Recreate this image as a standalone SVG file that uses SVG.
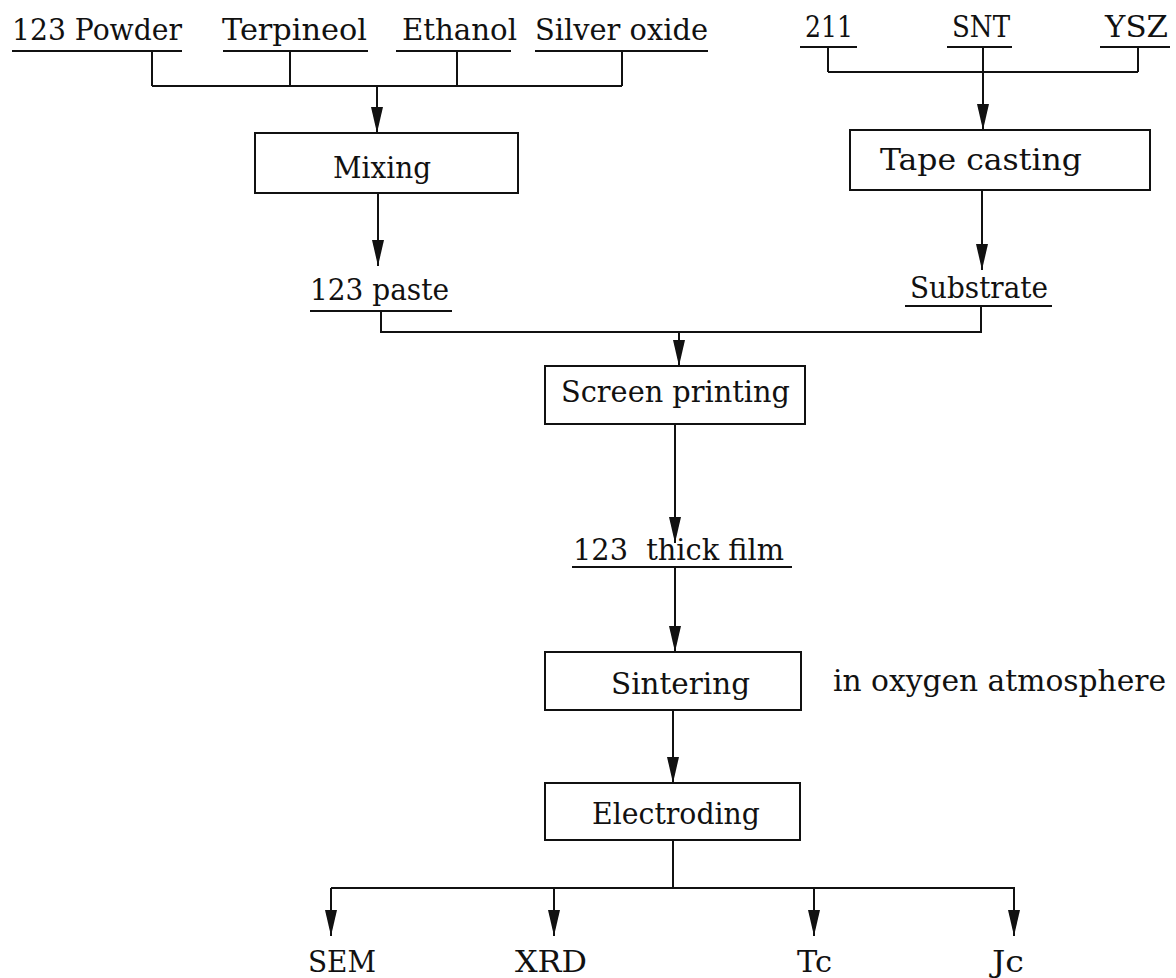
<svg xmlns="http://www.w3.org/2000/svg" width="1176" height="978" viewBox="0 0 1176 978">
<defs>
<style>
.t{font-family:"DejaVu Serif","Liberation Serif",serif;font-size:30px;fill:#111;}
.ln{stroke:#111;stroke-width:2;fill:none;}
.bx{stroke:#111;stroke-width:2;fill:#fff;}
.ar{stroke:#111;stroke-width:2;fill:none;marker-end:url(#ah);}
</style>
<marker id="ah" viewBox="0 -6 26 12" refX="26" refY="0" markerWidth="26" markerHeight="12" markerUnits="userSpaceOnUse" orient="auto">
<path d="M0,-6 L26,0 L0,6 z" fill="#111"/>
</marker>
</defs>
<rect width="1176" height="978" fill="#fff"/>

<g id="connectors">
<path class="ln" d="M152,51 V86 M290,51 V86 M457,51 V86 M622,51 V86 M152,86 H622"/>
<path class="ar" d="M377,86 V133"/>
<path class="ar" d="M378,193 V266"/>
<path class="ln" d="M828,47 V72 M983,47 V72 M1138,47 V72 M828,72 H1138"/>
<path class="ar" d="M983,72 V130"/>
<path class="ar" d="M982,190 V270"/>
<path class="ln" d="M381,311 V332 H981 V306"/>
<path class="ar" d="M679,332 V366"/>
<path class="ar" d="M675,424 V543"/>
<path class="ar" d="M675,567 V652"/>
<path class="ar" d="M673,710 V783"/>
<path class="ln" d="M673,840 V888 M331,888 H1015"/>
<path class="ar" d="M331,888 V936"/>
<path class="ar" d="M554,888 V936"/>
<path class="ar" d="M814,888 V936"/>
<path class="ar" d="M1014,888 V936"/>
</g>

<g id="n-123powder"><text class="t" x="12" y="40" textLength="170" lengthAdjust="spacingAndGlyphs">123 Powder</text><line class="ln" x1="12" y1="51" x2="182" y2="51"/></g>
<g id="n-terpineol"><text class="t" x="222" y="40" textLength="145" lengthAdjust="spacingAndGlyphs">Terpineol</text><line class="ln" x1="223" y1="51" x2="368" y2="51"/></g>
<g id="n-ethanol"><text class="t" x="402" y="40" textLength="115" lengthAdjust="spacingAndGlyphs">Ethanol</text><line class="ln" x1="396" y1="51" x2="511" y2="51"/></g>
<g id="n-silveroxide"><text class="t" x="535" y="40" textLength="173" lengthAdjust="spacingAndGlyphs">Silver oxide</text><line class="ln" x1="535" y1="51" x2="708" y2="51"/></g>

<g id="n-211"><text class="t" x="805" y="37" textLength="48" lengthAdjust="spacingAndGlyphs">211</text><line class="ln" x1="800" y1="47" x2="857" y2="47"/></g>
<g id="n-snt"><text class="t" x="952" y="37" textLength="58" lengthAdjust="spacingAndGlyphs">SNT</text><line class="ln" x1="947" y1="47" x2="1012" y2="47"/></g>
<g id="n-ysz"><text class="t" x="1105" y="37" textLength="63" lengthAdjust="spacingAndGlyphs">YSZ</text><line class="ln" x1="1100" y1="47" x2="1170" y2="47"/></g>

<g id="n-mixing"><rect class="bx" x="255" y="133" width="263" height="60"/><text class="t" x="333" y="178" textLength="98" lengthAdjust="spacingAndGlyphs">Mixing</text></g>
<g id="n-tapecasting"><rect class="bx" x="850" y="130" width="300" height="60"/><text class="t" x="880" y="170" textLength="202" lengthAdjust="spacingAndGlyphs">Tape casting</text></g>

<g id="n-123paste"><text class="t" x="310" y="300" textLength="139" lengthAdjust="spacingAndGlyphs">123 paste</text><line class="ln" x1="310" y1="311" x2="452" y2="311"/></g>
<g id="n-substrate"><text class="t" x="910" y="298" textLength="138" lengthAdjust="spacingAndGlyphs">Substrate</text><line class="ln" x1="905" y1="306" x2="1052" y2="306"/></g>

<g id="n-screenprinting"><rect class="bx" x="545" y="366" width="260" height="58"/><text class="t" x="561" y="402" textLength="229" lengthAdjust="spacingAndGlyphs">Screen printing</text></g>

<g id="n-thickfilm"><text class="t" x="573" y="560" textLength="211" lengthAdjust="spacingAndGlyphs" xml:space="preserve">123  thick film</text><line class="ln" x1="572" y1="567" x2="792" y2="567"/></g>

<g id="n-sintering"><rect class="bx" x="545" y="652" width="256" height="58"/><text class="t" x="611" y="694" textLength="139" lengthAdjust="spacingAndGlyphs">Sintering</text></g>
<g id="n-oxygen"><text class="t" x="833" y="691" textLength="333" lengthAdjust="spacingAndGlyphs">in oxygen atmosphere</text></g>

<g id="n-electroding"><rect class="bx" x="545" y="783" width="255" height="57"/><text class="t" x="592" y="824" textLength="168" lengthAdjust="spacingAndGlyphs">Electroding</text></g>

<g id="n-sem"><text class="t" x="308" y="972" textLength="68" lengthAdjust="spacingAndGlyphs">SEM</text></g>
<g id="n-xrd"><text class="t" x="515" y="972" textLength="72" lengthAdjust="spacingAndGlyphs">XRD</text></g>
<g id="n-tc"><text class="t" x="797" y="972" textLength="35" lengthAdjust="spacingAndGlyphs">Tc</text></g>
<g id="n-jc"><text class="t" x="992" y="972" textLength="32" lengthAdjust="spacingAndGlyphs">Jc</text></g>
</svg>
